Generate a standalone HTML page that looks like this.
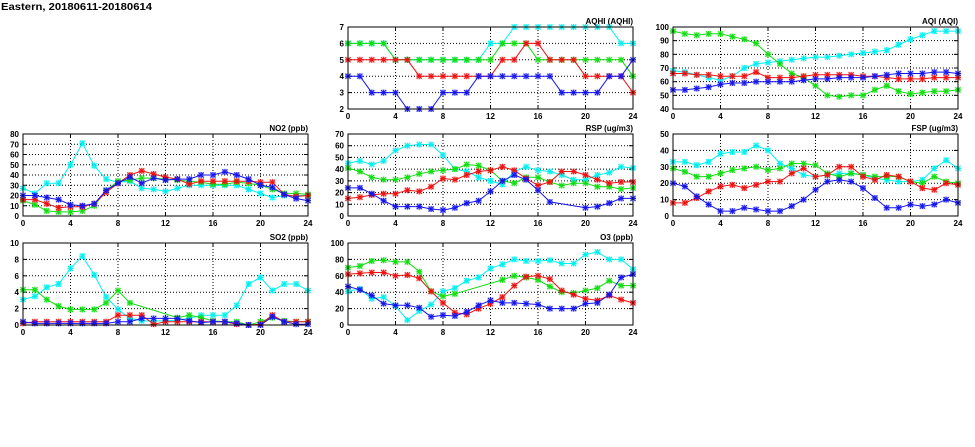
<!DOCTYPE html>
<html><head><meta charset="utf-8">
<style>
html,body{margin:0;padding:0;background:#fff;}
svg{display:block;font-family:"Liberation Sans",sans-serif;}
</style></head>
<body>
<svg id="chart" width="975" height="447" viewBox="0 0 975 447" xmlns="http://www.w3.org/2000/svg">
<text x="1" y="10" font-size="10" font-weight="bold" textLength="151" lengthAdjust="spacingAndGlyphs">Eastern, 20180611-20180614</text>
</svg>
<script>
const hours = [0,1,2,3,4,5,6,7,8,9,10,11,12,13,14,15,16,17,18,19,20,21,22,23,24];
const xTicks = [0,4,8,12,16,20,24];
const seriesNames = ['cyan','green','red','blue'];
const seriesColors = ['#00f0f0','#11dd11','#ee1111','#1515ee'];
const N = null;

const aqhiCyan  = [6,6,6,6,5,5,5,5,5,5,5,5,6,6,7,7,7,7,7,7,7,7,7,6,6];
const aqhiGreen = [6,6,6,6,5,5,5,5,5,5,5,5,5,6,6,6,5,5,5,5,5,5,5,5,4];
const aqhiRed   = [5,5,5,5,5,5,4,4,4,4,4,4,4,5,5,6,6,5,5,5,4,4,4,4,3];
const aqhiBlue  = [4,4,3,3,3,2,2,2,3,3,3,4,4,4,4,4,4,4,3,3,3,3,4,4,5];
const aqhiTicks = [2,3,4,5,6,7];

const aqiCyan  = [68,67,65,63,61,64,70,73,74,75,76,77,78,78,79,80,81,82,83,87,91,94,97,97,97];
const aqiGreen = [97,95,94,95,95,93,91,88,80,73,66,63,57,50,49,50,50,54,57,53,51,52,53,53,54];
const aqiRed   = [66,66,65,65,64,64,64,67,63,63,63,64,65,65,65,65,64,64,63,62,62,62,63,63,63];
const aqiBlue  = [54,54,55,56,58,59,59,60,60,60,60,61,62,62,63,63,63,64,65,66,66,66,67,67,66];
const aqiTicks = [40,50,60,70,80,90,100];

const no2Cyan  = [27,22,32,32,50,71,49,36,33,34,27,26,24,27,30,30,30,30,30,26,22,18,20,20,20];
const no2Green = [15,11,5,4,4,5,10,25,34,35,37,37,36,35,34,33,31,31,33,32,30,26,22,22,21];
const no2Red   = [16,16,12,8,9,9,12,23,32,40,44,41,38,36,31,34,34,34,34,34,33,33,21,19,20];
const no2Blue  = [20,20,18,16,11,10,12,25,32,38,32,37,35,36,36,40,40,43,40,36,30,28,21,17,15];
const no2Ticks = [0,10,20,30,40,50,60,70,80];

const rspCyan  = [45,47,44,47,56,60,61,61,52,40,38,33,30,27,38,42,39,38,35,31,31,35,37,42,41];
const rspGreen = [41,38,33,31,31,33,36,38,39,40,44,43,39,30,28,33,33,29,26,28,28,25,25,23,24];
const rspRed   = [15,16,18,19,19,22,21,25,32,31,35,38,39,42,39,32,26,29,38,38,35,31,28,29,29];
const rspBlue  = [24,24,19,13,8,8,8,6,5,7,11,13,21,30,35,31,22,12,N,N,7,8,11,15,15];
const rspTicks = [0,10,20,30,40,50,60,70];

const fspCyan  = [33,33,31,33,38,39,39,43,40,32,29,25,24,25,26,26,25,23,22,21,21,22,29,34,29];
const fspGreen = [29,27,24,24,26,28,29,30,28,29,32,32,31,26,24,26,25,24,24,24,21,20,24,21,20];
const fspRed   = [8,8,11,15,18,19,17,19,21,21,26,29,24,25,30,30,24,22,25,24,21,17,16,20,19];
const fspBlue  = [20,18,12,7,3,3,5,4,3,3,6,10,16,21,22,21,17,11,5,5,7,6,7,10,8];
const fspTicks = [0,10,20,30,40,50];

const so2Cyan  = [3.1,3.5,4.6,5.0,6.9,8.4,6.1,3.4,1.9,0.8,0.5,0.5,0.5,0.6,0.8,1.2,1.2,1.2,2.4,5.0,5.8,4.2,5.0,5.0,4.2];
const so2Green = [4.3,4.3,3.1,2.3,1.9,1.9,1.9,2.7,4.2,2.7,N,N,N,0.9,1.2,0.9,0.5,0.4,0.4,0,0.4,0.9,0.5,0.4,0.4];
const so2Red   = [0.2,0.4,0.4,0.4,0.4,0.4,0.4,0.4,1.2,1.2,1.2,0.1,0.4,0.4,0.4,0.4,0.4,0.4,0.1,0,0.1,1.2,0.4,0.4,0.4];
const so2Blue  = [0.4,0.2,0.2,0.2,0.2,0.2,0.2,0.2,0.4,0.4,0.8,0.8,0.8,0.8,0.5,0.3,0.4,0.4,0.2,0,0,1.0,0.4,0.1,0.1];
const so2Ticks = [0,2,4,6,8,10];

const o3Cyan  = [41,44,32,34,23,6,17,25,41,45,54,58,69,74,80,78,78,79,75,75,86,89,80,80,68];
const o3Green = [70,72,78,79,77,77,65,41,35,38,N,N,N,55,60,58,55,47,40,39,42,45,54,48,48];
const o3Red   = [62,63,64,64,60,61,57,41,27,15,13,20,26,34,48,59,60,56,42,37,32,30,36,31,27];
const o3Blue  = [47,43,36,26,24,24,21,10,12,11,16,24,30,27,27,26,25,20,20,20,26,27,37,58,62];
const o3Ticks = [0,20,40,60,80,100];

const NS = 'http://www.w3.org/2000/svg';
const svg = document.getElementById('chart');
function mk(tag, attrs, parent){
  const e = document.createElementNS(NS, tag);
  for (const k in attrs) e.setAttribute(k, attrs[k]);
  (parent||svg).appendChild(e);
  return e;
}

const panels = [
  {key:'aqhi', title:'AQHI (AQHI)', x:348, y:27, ticks:aqhiTicks, series:[aqhiCyan,aqhiGreen,aqhiRed,aqhiBlue]},
  {key:'aqi', title:'AQI (AQI)', x:673, y:27, ticks:aqiTicks, series:[aqiCyan,aqiGreen,aqiRed,aqiBlue]},
  {key:'no2', title:'NO2 (ppb)', x:23, y:134, ticks:no2Ticks, series:[no2Cyan,no2Green,no2Red,no2Blue]},
  {key:'rsp', title:'RSP (ug/m3)', x:348, y:134, ticks:rspTicks, series:[rspCyan,rspGreen,rspRed,rspBlue]},
  {key:'fsp', title:'FSP (ug/m3)', x:673, y:134, ticks:fspTicks, series:[fspCyan,fspGreen,fspRed,fspBlue]},
  {key:'so2', title:'SO2 (ppb)', x:23, y:243, ticks:so2Ticks, series:[so2Cyan,so2Green,so2Red,so2Blue]},
  {key:'o3', title:'O3 (ppb)', x:348, y:243, ticks:o3Ticks, series:[o3Cyan,o3Green,o3Red,o3Blue]},
];
const W = 285, H = 82;

panels.forEach(p => {
  const g = mk('g', {});
  
  
  const ymin = p.ticks[0], ymax = p.ticks[p.ticks.length-1];
  const xs = h => p.x + h / 24 * W;
  const ys = v => p.y + H - (v - ymin) / (ymax - ymin) * H;

  p.ticks.forEach((t, i) => {
    const y = ys(t);
    if (i > 0 && i < p.ticks.length-1) {
      const gl = mk('line', {x1:p.x, x2:p.x+W, y1:y, y2:y, stroke:'#000', 'stroke-width':1, 'stroke-dasharray':'1,2'}, g);
      
      
    }
    mk('line', {x1:p.x, x2:p.x+4, y1:y, y2:y, stroke:'#000'}, g);
    mk('line', {x1:p.x+W-4, x2:p.x+W, y1:y, y2:y, stroke:'#000'}, g);
    const tl = mk('text', {x:p.x-4, y:y+3, 'font-size':8, 'font-weight':'bold', 'text-anchor':'end'}, g);
    tl.textContent = t;
    
    
  });
  xTicks.forEach((t, i) => {
    const x = xs(t);
    if (i > 0 && i < xTicks.length-1) {
      const gl = mk('line', {x1:x, x2:x, y1:p.y, y2:p.y+H, stroke:'#000', 'stroke-width':1, 'stroke-dasharray':'1,2'}, g);
      
      
    }
    mk('line', {x1:x, x2:x, y1:p.y+H-4, y2:p.y+H, stroke:'#000'}, g);
    mk('line', {x1:x, x2:x, y1:p.y, y2:p.y+4, stroke:'#000'}, g);
    const tl = mk('text', {x:x, y:p.y+H+10, 'font-size':8, 'font-weight':'bold', 'text-anchor':'middle'}, g);
    tl.textContent = t;
    
    
  });

  p.series.forEach((vals, si) => {
    const col = seriesColors[si];
    const sg = mk('g', {}, g);
    
    
    const pts = [];
    vals.forEach((v, i) => { if (v !== null) pts.push([xs(hours[i]), ys(v)]); });
    const pl = mk('polyline', {points:pts.map(q => q[0].toFixed(1)+','+q[1].toFixed(1)).join(' '), fill:'none', stroke:col, 'stroke-width':1}, sg);
    
    
    pts.forEach(q => {
      const m = mk('g', {}, sg);
      
      
      mk('rect', {x:q[0]-3, y:q[1]-3, width:6, height:6, fill:col, 'fill-opacity':0.25}, m);
      mk('path', {d:`M${q[0]-2.5},${q[1]-2.5}L${q[0]+2.5},${q[1]+2.5}M${q[0]-2.5},${q[1]+2.5}L${q[0]+2.5},${q[1]-2.5}M${q[0]},${q[1]-3}L${q[0]},${q[1]+3}M${q[0]-3},${q[1]}L${q[0]+3},${q[1]}`, stroke:col, 'stroke-width':1, fill:'none'}, m);
    });
  });

  const fr = mk('rect', {x:p.x, y:p.y, width:W, height:H, fill:'none', stroke:'#000', 'stroke-width':1}, g);
  
  
  const tt = mk('text', {x:p.x+W, y:p.y-3, 'font-size':8, 'font-weight':'bold', 'text-anchor':'end'}, g);
  tt.textContent = p.title;
  
  
});
</script>
</body></html>
